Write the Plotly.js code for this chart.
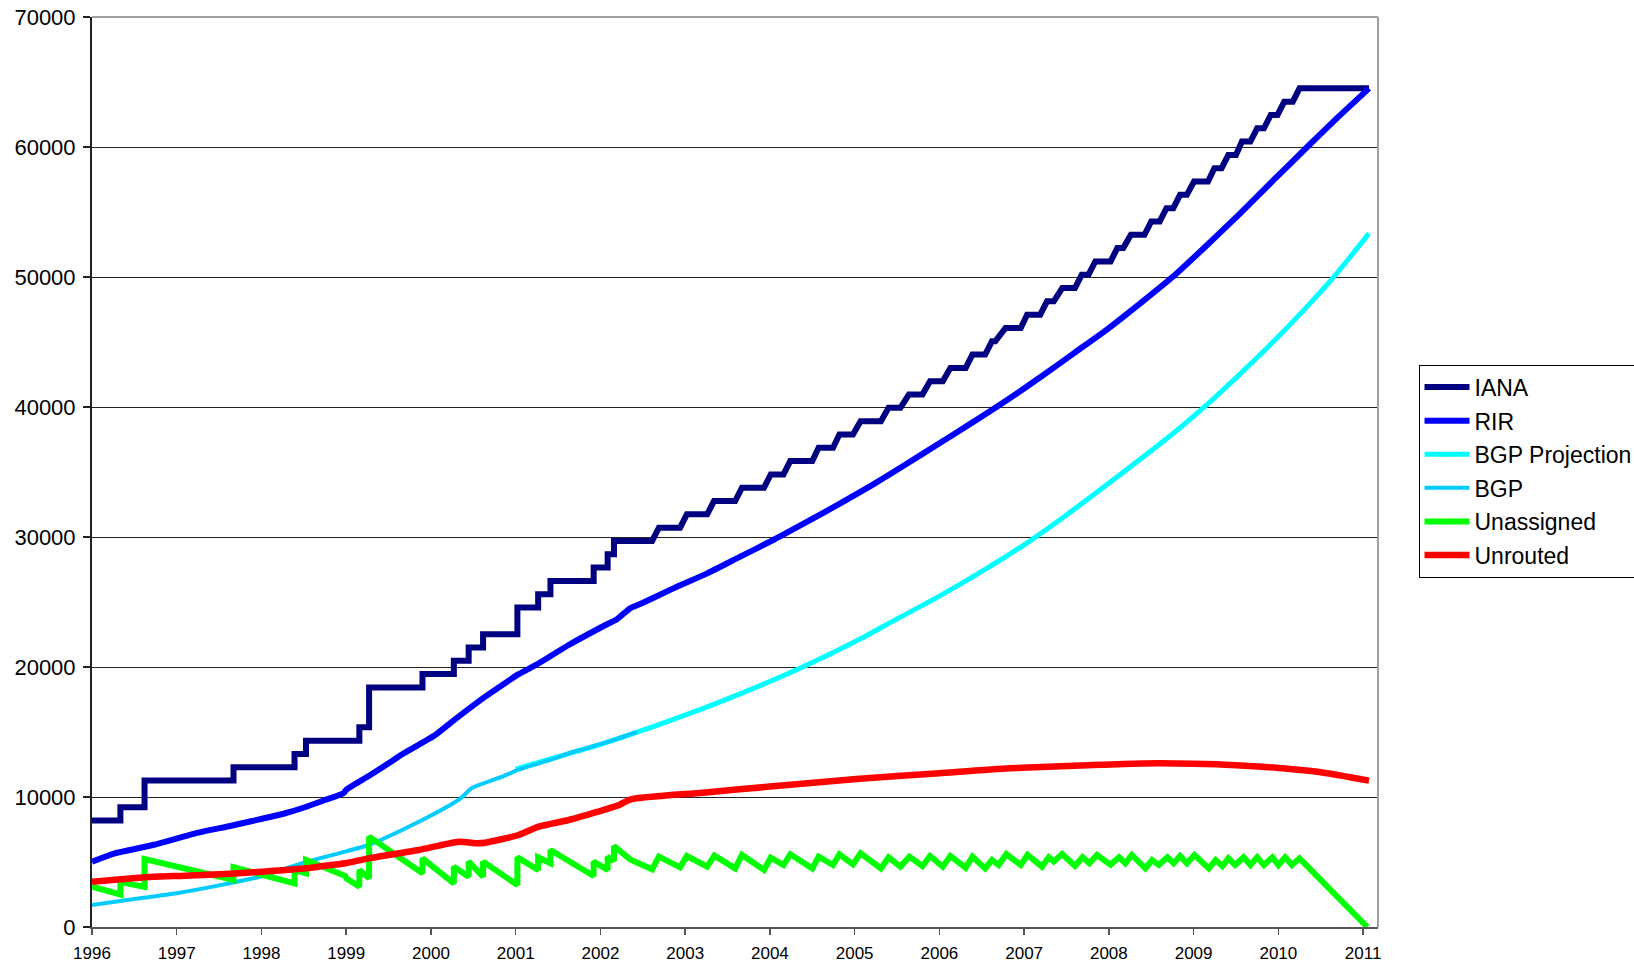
<!DOCTYPE html>
<html>
<head>
<meta charset="utf-8">
<script src="https://cdn.plot.ly/plotly-3.0.1.min.js"></script>
<style>
html,body{margin:0;padding:0;background:#fff;}
#chart{width:1634px;height:964px;}
</style>
</head>
<body>
<div id="chart"></div>
<script>
// ---- Data (decimal years, AS numbers) ----
const yearTicks = [1996,1997,1998,1999,2000,2001,2002,2003,2004,2005,2006,2007,2008,2009,2010,2011];
const yearTickLabels = ["1996","1997","1998","1999","2000","2001","2002","2003","2004","2005","2006","2007","2008","2009","2010","2011"];

const ianaX = [1996.0,1996.335,1996.335,1996.62,1996.62,1997.67,1997.67,1998.39,1998.39,1998.525,1998.525,1999.155,1999.155,1999.27,1999.27,1999.90,1999.90,2000.27,2000.27,2000.445,2000.445,2000.615,2000.615,2001.02,2001.02,2001.265,2001.265,2001.41,2001.41,2001.92,2001.92,2002.085,2002.085,2002.16,2002.16,2002.61,2002.69,2002.94,2003.02,2003.26,2003.34,2003.59,2003.67,2003.93,2004.01,2004.16,2004.24,2004.50,2004.575,2004.745,2004.82,2004.98,2005.07,2005.31,2005.40,2005.54,2005.64,2005.80,2005.89,2006.04,2006.13,2006.31,2006.39,2006.54,2006.62,2006.66,2006.78,2006.96,2007.035,2007.19,2007.27,2007.35,2007.45,2007.60,2007.68,2007.76,2007.84,2008.02,2008.10,2008.17,2008.26,2008.42,2008.50,2008.60,2008.68,2008.76,2008.84,2008.92,2009.005,2009.17,2009.245,2009.33,2009.41,2009.50,2009.57,2009.67,2009.75,2009.83,2009.91,2009.99,2010.07,2010.17,2010.25,2011.07];
const ianaY = [8192,8192,9216,9216,11264,11264,12288,12288,13312,13312,14336,14336,15360,15360,18432,18432,19456,19456,20480,20480,21504,21504,22528,22528,24576,24576,25600,25600,26624,26624,27648,27648,28672,28672,29696,29696,30720,30720,31744,31744,32768,32768,33792,33792,34816,34816,35840,35840,36864,36864,37888,37888,38912,38912,39936,39936,40960,40960,41984,41984,43008,43008,44032,44032,45056,45056,46080,46080,47104,47104,48128,48128,49152,49152,50176,50176,51200,51200,52224,52224,53248,53248,54272,54272,55296,55296,56320,56320,57344,57344,58368,58368,59392,59392,60416,60416,61440,61440,62464,62464,63488,63488,64512,64512];

const rirX = [1996.0,1996.27,1996.72,1997.22,1997.63,1997.89,1998.28,1998.53,1998.75,1998.97,1999.0,1999.265,1999.56,1999.66,2000.05,2000.25,2000.64,2000.90,2001.035,2001.25,2001.625,2002.06,2002.20,2002.35,2002.47,2002.86,2003.26,2003.65,2004.04,2004.44,2004.83,2005.22,2005.62,2006.01,2006.405,2006.80,2007.19,2007.585,2007.98,2008.37,2008.765,2009.16,2009.55,2009.945,2010.34,2010.71,2011.07];
const rirY = [5023,5667,6308,7205,7769,8150,8750,9250,9769,10300,10560,11615,12846,13282,14769,15800,17718,18872,19450,20200,21692,23231,23700,24513,24846,26051,27205,28487,29769,31179,32590,34050,35650,37256,38872,40538,42282,44128,45974,47974,50077,52462,54897,57462,60000,62333,64512];

const bgpProjX = [2001.0,2001.5,2002.0,2002.45,2003.26,2003.58,2004.04,2004.5,2005.07,2005.5,2006.0,2006.5,2007.0,2007.5,2008.06,2008.765,2009.16,2009.55,2009.945,2010.3,2010.65,2011.07];
const bgpProjY = [12150,13100,14050,15026,16934,17758,19000,20350,22180,23700,25450,27350,29400,31700,34436,38000,40200,42550,45050,47450,49974,53359];

const bgpX = [1996.0,1996.5,1997.0,1997.5,1998.0,1998.5,1998.91,1999.265,1999.66,2000.05,2000.35,2000.485,2000.84,2001.035,2001.5,2001.625,2002.06,2002.43];
const bgpY = [1692,2150,2600,3200,3900,4950,5667,6308,7462,8744,9897,10700,11564,12100,13050,13359,14179,15000];

const unassignedX = [1996.0,1996.335,1996.335,1996.62,1996.62,1997.67,1997.67,1998.39,1998.39,1998.525,1998.525,1998.99,1999.0,1999.155,1999.155,1999.27,1999.27,1999.90,1999.90,2000.27,2000.27,2000.445,2000.445,2000.615,2000.615,2001.02,2001.02,2001.265,2001.265,2001.41,2001.41,2001.92,2001.92,2002.085,2002.085,2002.16,2002.16,2002.25,2002.35,2002.61,2002.69,2002.94,2003.02,2003.26,2003.345,2003.59,2003.67,2003.93,2004.01,2004.16,2004.24,2004.50,2004.575,2004.745,2004.82,2004.98,2005.07,2005.31,2005.40,2005.54,2005.645,2005.80,2005.89,2006.04,2006.13,2006.31,2006.39,2006.54,2006.62,2006.70,2006.79,2006.96,2007.04,2007.21,2007.29,2007.35,2007.45,2007.60,2007.69,2007.77,2007.86,2008.02,2008.12,2008.195,2008.27,2008.43,2008.51,2008.59,2008.69,2008.765,2008.84,2008.92,2009.01,2009.18,2009.26,2009.34,2009.41,2009.49,2009.59,2009.67,2009.75,2009.83,2009.93,2010.00,2010.08,2010.16,2010.25,2011.05];
const unassignedY = [3100,2500,3450,3080,5230,3615,4600,3360,4380,4130,5150,3920,3750,3100,4380,3750,6950,4130,5280,3360,4640,3870,5030,3870,5030,3230,5360,4390,5360,4900,5920,3920,5030,4390,5410,5100,6230,5750,5200,4440,5410,4590,5460,4640,5490,4510,5540,4390,5330,4770,5590,4510,5410,4770,5590,4820,5670,4510,5360,4640,5410,4690,5460,4640,5460,4560,5410,4510,5150,4770,5610,4770,5540,4640,5360,5030,5610,4690,5360,4900,5540,4800,5360,4900,5540,4510,5150,4770,5360,4900,5460,4900,5540,4510,5150,4690,5280,4770,5360,4770,5360,4770,5360,4770,5360,4770,5280,0];

const unroutedX = [1996.0,1996.72,1997.10,1997.63,1998.01,1998.53,1998.67,1998.99,1999.265,1999.855,2000.33,2000.52,2000.64,2001.035,2001.27,2001.625,2002.06,2002.22,2002.36,2003.21,2004.0,2005.02,2006.0,2006.83,2007.9,2008.4,2009.0,2009.5,2010.0,2010.5,2011.07];
const unroutedY = [3487,3872,3950,4100,4256,4513,4641,4900,5282,5923,6564,6450,6487,7077,7718,8231,9051,9385,9821,10333,10800,11385,11830,12205,12480,12580,12560,12450,12230,11900,11256];

const seriesNames = ["IANA","RIR","BGP Projection","BGP","Unassigned","Unrouted"];

// ---- Traces ----
const font = "Liberation Sans, Arial, sans-serif";
const traces = [
  {x: ianaX, y: ianaY, name: seriesNames[0], legendgroup: "g0", mode: "lines", line: {color: "#000080", width: 6, shape: "linear"}},
  {x: rirX, y: rirY, name: seriesNames[1], legendgroup: "g1", mode: "lines", line: {color: "#0000FF", width: 6, shape: "spline", smoothing: 0.6}},
  {x: bgpProjX, y: bgpProjY, name: seriesNames[2], legendgroup: "g2", mode: "lines", line: {color: "#00FFFF", width: 5, shape: "spline", smoothing: 0.8}},
  {x: bgpX, y: bgpY, name: seriesNames[3], legendgroup: "g3", mode: "lines", line: {color: "#00CCFF", width: 4, shape: "spline", smoothing: 0.6}},
  {x: unassignedX, y: unassignedY, name: seriesNames[4], legendgroup: "g4", mode: "lines", line: {color: "#00FF00", width: 6, shape: "linear"}},
  {x: unroutedX, y: unroutedY, name: seriesNames[5], legendgroup: "g5", mode: "lines", line: {color: "#FF0000", width: 6.5, shape: "spline", smoothing: 0.6}}
];

const layout = {
  width: 1634, height: 964,
  margin: {l: 92, r: 256, t: 17, b: 37, autoexpand: false},
  paper_bgcolor: "#ffffff", plot_bgcolor: "#ffffff",
  font: {family: font, color: "#000000"},
  showlegend: true,
  legend: {
    x: 1.0315, y: 0.618, xanchor: "left", yanchor: "top",
    bgcolor: "#ffffff", bordercolor: "#000000", borderwidth: 1,
    font: {family: font, size: 23, color: "#000000"},
    itemwidth: 45, tracegroupgap: 0.7
  },
  xaxis: {
    range: [1996, 2011.176], tickmode: "array", tickvals: yearTicks, ticktext: yearTickLabels,
    showgrid: false, zeroline: false,
    showline: true, linecolor: "#555555", linewidth: 2,
    ticks: "outside", ticklen: 6, tickwidth: 1.5, tickcolor: "#555555",
    tickfont: {family: font, size: 17, color: "#000000"},
    ticklabelstandoff: 4, fixedrange: true
  },
  yaxis: {
    range: [0, 70000], dtick: 10000, tick0: 0, tickformat: "d",
    showgrid: true, gridcolor: "#222222", gridwidth: 1, zeroline: false,
    showline: true, linecolor: "#222222", linewidth: 2,
    ticks: "outside", ticklen: 7, tickwidth: 1.5, tickcolor: "#222222",
    tickfont: {family: font, size: 22, color: "#000000"},
    ticklabelstandoff: 3, fixedrange: true
  },
  shapes: [
    {type: "line", xref: "paper", yref: "paper", x0: 0, x1: 1, y0: 1, y1: 1, line: {color: "#A0A0A0", width: 2}},
    {type: "line", xref: "paper", yref: "paper", x0: 1, x1: 1, y0: 0, y1: 1, line: {color: "#A0A0A0", width: 2}}
  ]
};

Plotly.newPlot("chart", traces, layout, {displayModeBar: false, staticPlot: true});
</script>
</body>
</html>
